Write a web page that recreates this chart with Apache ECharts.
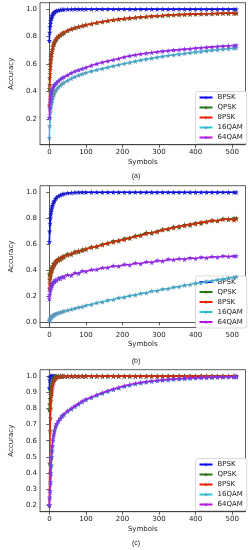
<!DOCTYPE html>
<html><head><meta charset="utf-8">
<script src="https://cdn.jsdelivr.net/npm/echarts@6/dist/echarts.min.js"></script>
<style>html,body{margin:0;padding:0;background:#fff}#c{width:249px;height:550px}</style>
</head><body><div id="c"></div>
<script>
// Symbols (x positions sampled)
const xs = [0,1,2,3,4,5,6,7,8,10,12,14,17,20,25,30,35,40,50,60,70,80,90,100,
  115,130,145,160,175,190,205,220,235,250,265,280,295,310,325,340,355,370,385,400,415,430,445,460,475,490,505,511];
const seriesNames = ['BPSK','QPSK','8PSK','16QAM','64QAM'];
const xTicks = [0,100,200,300,400,500];
const yTicksA = [0.2,0.4,0.6,0.8,1.0];
const yTicksB = [0.0,0.2,0.4,0.6,0.8,1.0];
const yTicksC = [0.2,0.3,0.4,0.5,0.6,0.7,0.8,0.9,1.0];
const panelLabels = ['(a)','(b)','(c)'];

// Panel (a)
const bpskA = [0.77,0.83,0.87,0.895,0.915,0.93,0.94,0.95,0.955,0.965,0.972,0.978,0.984,0.988,0.992,0.995,0.997,0.998,0.999,0.999,1.0,1.0,1.0,1.0,
  1,1,1,1,1,1,1,1,1,1,1,1,1,1,1,1,1,1,1,1,1,1,1,1,1,1,1,1];
const qpskA = [0.42,0.50,0.56,0.60,0.63,0.655,0.675,0.69,0.705,0.725,0.742,0.755,0.77,0.78,0.797,0.808,0.818,0.826,0.842,0.853,0.863,0.871,0.878,0.885,
  0.893,0.901,0.908,0.915,0.921,0.926,0.93,0.934,0.938,0.942,0.945,0.948,0.951,0.953,0.956,0.958,0.96,0.961,0.963,0.964,0.965,0.966,0.967,0.968,0.969,0.969,0.970,0.970];
const psk8A = [0.30,0.45,0.53,0.58,0.62,0.65,0.672,0.69,0.706,0.73,0.75,0.762,0.778,0.79,0.805,0.815,0.824,0.832,0.845,0.856,0.865,0.872,0.879,0.886,
  0.894,0.902,0.909,0.916,0.922,0.927,0.931,0.935,0.939,0.943,0.946,0.949,0.952,0.954,0.957,0.959,0.961,0.962,0.964,0.965,0.966,0.967,0.968,0.969,0.97,0.97,0.971,0.971];
const qam16A = [0.065,0.15,0.21,0.25,0.28,0.30,0.317,0.33,0.342,0.36,0.376,0.39,0.405,0.416,0.432,0.445,0.456,0.465,0.48,0.495,0.508,0.518,0.528,0.537,
  0.548,0.558,0.567,0.576,0.586,0.595,0.604,0.612,0.621,0.629,0.636,0.643,0.65,0.656,0.662,0.667,0.672,0.677,0.682,0.687,0.692,0.696,0.70,0.704,0.708,0.712,0.716,0.718];
const qam64A = [0.21,0.28,0.32,0.34,0.36,0.38,0.395,0.405,0.415,0.43,0.44,0.45,0.458,0.465,0.478,0.489,0.498,0.506,0.52,0.535,0.547,0.557,0.566,0.575,
  0.59,0.602,0.613,0.622,0.631,0.64,0.652,0.66,0.667,0.673,0.679,0.684,0.689,0.694,0.698,0.702,0.705,0.709,0.712,0.716,0.719,0.722,0.725,0.728,0.731,0.734,0.736,0.737];

// Panel (b)
const bpskB = [0.62,0.70,0.76,0.80,0.83,0.85,0.87,0.885,0.895,0.91,0.925,0.935,0.95,0.96,0.97,0.978,0.984,0.988,0.993,0.996,0.998,0.999,1.0,1.0,
  1,1,1,1,1,1,1,1,1,1,1,1,1,1,1,1,1,1,1,1,1,1,1,1,1,1,1,1];
const qpskB = [0.37,0.33,0.36,0.38,0.395,0.39,0.415,0.41,0.43,0.425,0.45,0.44,0.47,0.465,0.49,0.48,0.505,0.50,0.525,0.52,0.545,0.54,0.56,0.56,
  0.58,0.58,0.60,0.605,0.625,0.625,0.645,0.645,0.665,0.67,0.69,0.685,0.70,0.715,0.715,0.735,0.73,0.75,0.745,0.765,0.76,0.775,0.78,0.78,0.795,0.79,0.80,0.80];
const psk8B = [0.26,0.30,0.33,0.35,0.37,0.38,0.40,0.40,0.42,0.43,0.435,0.455,0.455,0.475,0.475,0.495,0.49,0.51,0.515,0.53,0.535,0.55,0.55,0.565,
  0.575,0.585,0.595,0.61,0.615,0.63,0.635,0.65,0.66,0.665,0.68,0.69,0.695,0.71,0.72,0.725,0.74,0.74,0.755,0.755,0.77,0.77,0.785,0.78,0.79,0.795,0.785,0.795];
const qam16B = [0.012,0.02,0.025,0.032,0.035,0.04,0.04,0.047,0.048,0.052,0.055,0.06,0.062,0.068,0.072,0.078,0.08,0.087,0.092,0.10,0.107,0.115,0.12,0.13,
  0.137,0.15,0.156,0.17,0.175,0.188,0.193,0.205,0.21,0.222,0.226,0.24,0.243,0.255,0.258,0.27,0.274,0.285,0.29,0.3,0.303,0.314,0.318,0.328,0.332,0.34,0.345,0.35];
const qam64B = [0.18,0.21,0.235,0.25,0.265,0.265,0.285,0.28,0.295,0.30,0.315,0.31,0.325,0.32,0.34,0.335,0.35,0.345,0.365,0.36,0.38,0.375,0.395,0.39,
  0.405,0.405,0.42,0.42,0.435,0.43,0.445,0.44,0.455,0.45,0.465,0.46,0.475,0.47,0.485,0.48,0.49,0.485,0.495,0.49,0.50,0.495,0.505,0.50,0.51,0.505,0.51,0.51];

// Panel (c)
const bpskC = [0.925,0.975,0.99,0.997,1,1,1,1,1,1,1,1,1,1,1,1,1,1,1,1,1,1,1,1,
  1,1,1,1,1,1,1,1,1,1,1,1,1,1,1,1,1,1,1,1,1,1,1,1,1,1,1,1];
const qpskC = [0.79,0.83,0.86,0.885,0.905,0.925,0.94,0.955,0.965,0.978,0.988,0.994,0.998,1,1,1,1,1,1,1,1,1,1,1,
  1,1,1,1,1,1,1,1,1,1,1,1,1,1,1,1,1,1,1,1,1,1,1,1,1,1,1,1];
const psk8C = [0.2,0.46,0.66,0.74,0.80,0.85,0.88,0.90,0.92,0.945,0.965,0.975,0.985,0.99,0.995,0.998,1,1,1,1,1,1,1,1,
  1,1,1,1,1,1,1,1,1,1,1,1,1,1,1,1,1,1,1,1,1,1,1,1,1,1,1,1];
const qam16C = [0.2,0.24,0.28,0.33,0.385,0.44,0.49,0.53,0.56,0.60,0.63,0.655,0.68,0.70,0.72,0.735,0.75,0.76,0.78,0.795,0.81,0.825,0.84,0.852,
  0.866,0.88,0.893,0.905,0.916,0.926,0.936,0.944,0.951,0.957,0.962,0.967,0.971,0.974,0.977,0.98,0.982,0.984,0.986,0.988,0.99,0.991,0.992,0.993,0.994,0.995,0.995,0.996];
const qam64C = [0.2,0.25,0.29,0.345,0.40,0.45,0.50,0.54,0.57,0.61,0.64,0.665,0.69,0.705,0.725,0.74,0.755,0.765,0.785,0.80,0.815,0.83,0.845,0.857,
  0.87,0.885,0.897,0.91,0.92,0.93,0.94,0.948,0.955,0.961,0.966,0.97,0.973,0.976,0.979,0.982,0.984,0.986,0.988,0.99,0.991,0.992,0.993,0.994,0.995,0.996,0.996,0.997];

const panels = [
  [bpskA,qpskA,psk8A,qam16A,qam64A],
  [bpskB,qpskB,psk8B,qam16B,qam64B],
  [bpskC,qpskC,psk8C,qam16C,qam64C]
];

const lineColors = ['#0000ff','#1f7a0f','#ff1500','#2cc4d8','#c010e0'];
const markColors = ['#1c1cc8','#4a5e1c','#a8401c','#5a98bc','#7a38e0'];
const STAR = 'path://M0,-10L2.245,-3.09L9.51,-3.09L3.633,1.18L5.878,8.09L0,3.82L-5.878,8.09L-3.633,1.18L-9.51,-3.09L-2.245,-3.09Z';
const FONT = 'DejaVu Sans';

const grids = [
  {left:26, top:2.7, width:219.5, height:142},
  {left:26, top:185.7, width:219.5, height:141.8},
  {left:26, top:369.7, width:219.5, height:142}
];
const yRanges = [[0.013,1.047],[-0.04,1.05],[0.16,1.04]];
const yTicks = [yTicksA,yTicksB,yTicksC];
const legendTops = [91.5,276,458.5];
const labelY = [176,361,543];

const option = {
  animation:false,
  textStyle:{fontFamily:FONT},
  grid: grids.map(g=>Object.assign({show:true,borderColor:'#333',borderWidth:0.8,backgroundColor:'#fff'},g)),
  xAxis: grids.map((g,i)=>({
    type:'value', gridIndex:i, min:-25.5, max:536.5,
    name:'Symbols', nameLocation:'middle', nameGap:13.5,
    nameTextStyle:{fontSize:7,color:'#222',fontFamily:FONT},
    axisLine:{show:true,lineStyle:{color:'#333',width:0.8}},
    axisTick:{show:true,inside:false,length:3,customValues:xTicks,lineStyle:{color:'#333',width:0.8}},
    axisLabel:{fontSize:7,color:'#222',margin:4,customValues:xTicks,fontFamily:FONT},
    splitLine:{show:false}
  })),
  yAxis: grids.map((g,i)=>({
    type:'value', gridIndex:i, min:yRanges[i][0], max:yRanges[i][1],
    name:'Accuracy', nameLocation:'middle', nameGap:17, nameRotate:90,
    nameTextStyle:{fontSize:7,color:'#222',fontFamily:FONT},
    axisLine:{show:true,lineStyle:{color:'#333',width:0.8}},
    axisTick:{show:true,inside:false,length:3,customValues:yTicks[i],lineStyle:{color:'#333',width:0.8}},
    axisLabel:{fontSize:7,color:'#222',margin:3,customValues:yTicks[i],formatter:v=>v.toFixed(1),fontFamily:FONT},
    splitLine:{show:false}
  })),
  legend: legendTops.map(t=>({
    data:seriesNames, orient:'vertical', left:195.5, top:t,
    itemWidth:13, itemHeight:5, itemGap:2,
    padding:[2,4,2,3], borderColor:'#d0d0d0', borderWidth:0.8, borderRadius:2,
    backgroundColor:'#fff',
    textStyle:{fontSize:7,color:'#222',fontFamily:FONT,lineHeight:8}
  })),
  graphic: panelLabels.map((t,i)=>({
    type:'text', x:136, y:labelY[i],
    style:{text:t, fontSize:7, fill:'#222', font:'7px '+FONT, align:'center', verticalAlign:'middle'}
  })),
  series: []
};

panels.forEach((vals,pi)=>{
  vals.forEach((arr,si)=>{
    option.series.push({
      type:'line', name:seriesNames[si], xAxisIndex:pi, yAxisIndex:pi,
      data: xs.map((x,k)=>[x,arr[k]]),
      symbol:STAR, symbolSize:5.5, showSymbol:true,
      lineStyle:{color:lineColors[si],width:1.6},
      itemStyle:{color:markColors[si]},
      emphasis:{disabled:true}, silent:true, z:2+si
    });
  });
});

const chart = echarts.init(document.getElementById('c'),null,{renderer:'canvas'});
chart.setOption(option);
</script>
</body></html>
